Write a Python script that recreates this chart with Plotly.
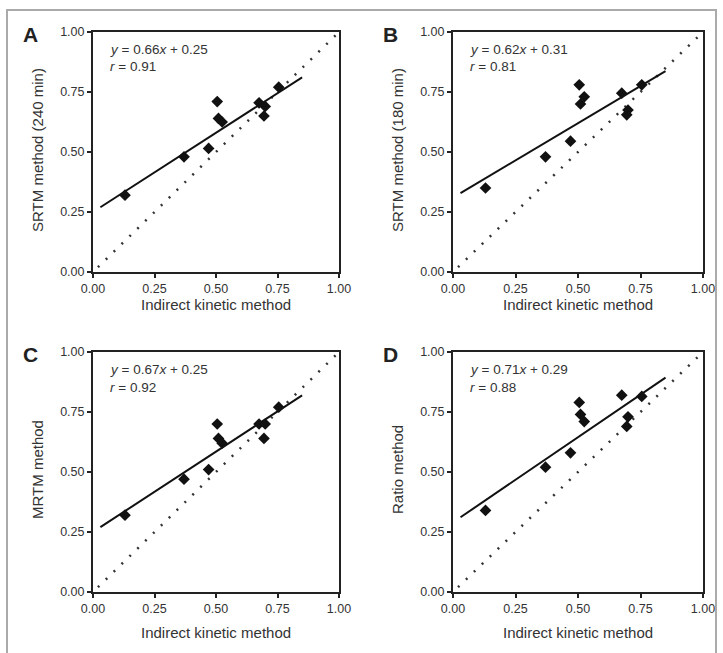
import plotly.graph_objects as go

W, H = 723, 653

# Data
indirect_kinetic = [0.13, 0.37, 0.47, 0.505, 0.51, 0.525, 0.675, 0.70, 0.695, 0.755]
srtm_240 = [0.32, 0.48, 0.515, 0.71, 0.64, 0.625, 0.705, 0.69, 0.65, 0.77]
srtm_180 = [0.35, 0.48, 0.545, 0.78, 0.70, 0.73, 0.745, 0.675, 0.655, 0.78]
mrtm = [0.32, 0.47, 0.51, 0.70, 0.64, 0.62, 0.70, 0.70, 0.64, 0.77]
ratio = [0.34, 0.52, 0.58, 0.79, 0.74, 0.71, 0.82, 0.73, 0.69, 0.815]

panel_letters = ["A", "B", "C", "D"]
y_titles = ["SRTM method (240 min)", "SRTM method (180 min)", "MRTM method", "Ratio method"]
x_title = "Indirect kinetic method"
slopes = [0.66, 0.62, 0.67, 0.71]
intercepts = [0.25, 0.31, 0.25, 0.29]
r_values = [0.91, 0.81, 0.92, 0.88]
fit_x_range = [0.03, 0.85]
identity_range = [0.02, 1.0]
tick_vals = [0, 0.25, 0.5, 0.75, 1.0]
tick_text = ["0.00", "0.25", "0.50", "0.75", "1.00"]
series = [srtm_240, srtm_180, mrtm, ratio]

# Layout geometry in pixels (left, right, top, bottom)
boxes = [
    (93, 339, 32, 272),
    (453, 703, 32, 272),
    (93, 339, 352, 592),
    (453, 703, 352, 592),
]


def xp(px):
    return px / W


def yp(py):
    return 1 - py / H


fig = go.Figure()
FONT = "Arial, Liberation Sans, sans-serif"
annotations = []
layout_axes = {}

for i in range(4):
    n = i + 1
    xa = "x" if n == 1 else f"x{n}"
    ya = "y" if n == 1 else f"y{n}"
    l, r, t, b = boxes[i]
    # identity dotted line
    fig.add_trace(go.Scatter(x=identity_range, y=identity_range, mode="lines",
                             line=dict(color="#333333", width=2.5, dash="2px,9px"),
                             xaxis=xa, yaxis=ya, showlegend=False, hoverinfo="skip"))
    # regression line
    fy = [slopes[i] * v + intercepts[i] for v in fit_x_range]
    fig.add_trace(go.Scatter(x=fit_x_range, y=fy, mode="lines",
                             line=dict(color="#111111", width=2),
                             xaxis=xa, yaxis=ya, showlegend=False))
    # points
    fig.add_trace(go.Scatter(x=indirect_kinetic, y=series[i], mode="markers",
                             marker=dict(symbol="diamond", size=9, color="#111111"),
                             xaxis=xa, yaxis=ya, showlegend=False))

    axcommon = dict(range=[0, 1], tickvals=tick_vals, ticktext=tick_text, automargin=False,
                    showgrid=False, zeroline=False, showline=True, linecolor="#222222",
                    linewidth=2, mirror=True, ticks="outside", ticklen=4, tickwidth=1.5,
                    tickcolor="#222222", tickfont=dict(family=FONT, size=12.5, color="#333333"))
    layout_axes["xaxis" if n == 1 else f"xaxis{n}"] = dict(
        domain=[xp(l), xp(r)], anchor=ya, **axcommon)
    layout_axes["yaxis" if n == 1 else f"yaxis{n}"] = dict(
        domain=[yp(b), yp(t)], anchor=xa, **axcommon)

    # panel letter
    annotations.append(dict(x=xp(l - 63), y=yp(t + 2), xref="paper", yref="paper",
                            text=f"<b>{panel_letters[i]}</b>", showarrow=False,
                            font=dict(family=FONT, size=21, color="#222222"),
                            xanchor="center", yanchor="middle"))
    # equation text
    annotations.append(dict(x=xp(l + 15), y=yp(t + 17), xref="paper", yref="paper",
                            text=f"<i>y</i> = {slopes[i]:.2f}<i>x</i> + {intercepts[i]:.2f}",
                            showarrow=False, font=dict(family=FONT, size=13.5, color="#333333"),
                            xanchor="left", yanchor="middle"))
    annotations.append(dict(x=xp(l + 15), y=yp(t + 35), xref="paper", yref="paper",
                            text=f"<i>r</i> = {r_values[i]:.2f}",
                            showarrow=False, font=dict(family=FONT, size=13.5, color="#333333"),
                            xanchor="left", yanchor="middle"))
    # x title
    annotations.append(dict(x=xp((l + r) / 2), y=yp(b + 32 if i < 2 else b + 40), xref="paper", yref="paper",
                            text=x_title, showarrow=False,
                            font=dict(family=FONT, size=15, color="#333333"),
                            xanchor="center", yanchor="middle"))
    # y title
    annotations.append(dict(x=xp(l - 56), y=yp((t + b) / 2 - 2), xref="paper", yref="paper",
                            text=y_titles[i], showarrow=False, textangle=-90,
                            font=dict(family=FONT, size=15, color="#333333"),
                            xanchor="center", yanchor="middle"))

fig.update_layout(
    width=W, height=H,
    margin=dict(l=0, r=0, t=0, b=0),
    paper_bgcolor="white", plot_bgcolor="white",
    annotations=annotations,
    shapes=[dict(type="rect", xref="paper", yref="paper",
                 x0=xp(7), x1=xp(716), y0=yp(660), y1=yp(10),
                 line=dict(color="#aaaaaa", width=2), fillcolor="rgba(0,0,0,0)")],
    **layout_axes,
)

fig.write_html("out.html", config={"displayModeBar": False},
               post_script="document.body.style.margin='0px';")
